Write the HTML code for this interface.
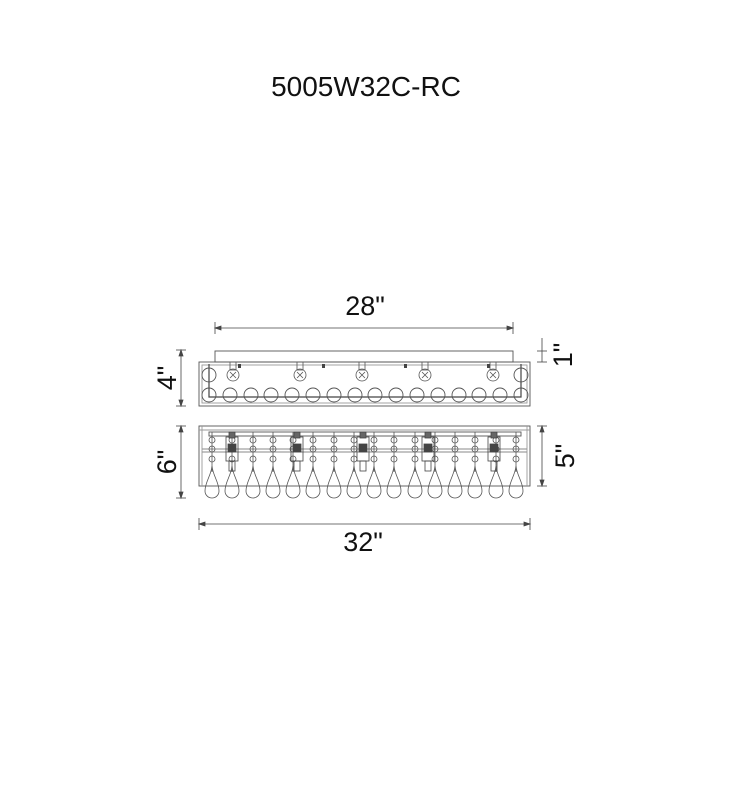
<!DOCTYPE html>
<html><head><meta charset="utf-8"><style>
html,body{margin:0;padding:0;background:#fff;width:730px;height:800px;overflow:hidden}
</style></head><body>
<svg width="730" height="800" viewBox="0 0 730 800" xmlns="http://www.w3.org/2000/svg" font-family="Liberation Sans, sans-serif">
<defs>
  <g id="drop" fill="none" stroke="#555" stroke-width="0.8">
    <line x1="0" y1="432" x2="0" y2="472"/>
    <circle cx="0" cy="440" r="3"/>
    <circle cx="0" cy="449" r="3"/>
    <circle cx="0" cy="459" r="3"/>
    <path d="M0,466 C-1,476 -7,482 -7,491 A7,7 0 0 0 7,491 C7,482 1,476 0,466 Z"/>
  </g>
  <g id="bulb" fill="none" stroke="#555" stroke-width="0.8">
    <rect x="-3" y="362" width="6" height="8"/>
    <circle cx="0" cy="375" r="6"/>
    <path d="M-3,372 L3,378 M3,372 L-3,378"/>
  </g>
  <g id="fix" fill="none" stroke="#444" stroke-width="0.8">
    <rect x="-6" y="437" width="12" height="24"/>
    <rect x="-3" y="432" width="6" height="6" fill="#666"/>
    <rect x="-4" y="444" width="8" height="8" fill="#444"/>
    <rect x="-3" y="461" width="6" height="10"/>
  </g>
</defs>

<text x="366" y="96" font-size="28" text-anchor="middle" fill="#111">5005W32C-RC</text>

<text x="365" y="315" font-size="27" text-anchor="middle" fill="#111">28"</text>
<g stroke="#444" stroke-width="0.8" fill="#444">
  <line x1="215" y1="328" x2="513" y2="328"/>
  <line x1="215" y1="322" x2="215" y2="334"/>
  <line x1="513" y1="322" x2="513" y2="334"/>
  <path d="M215,328 l6,-2 v4z M513,328 l-6,-2 v4z"/>
</g>

<g fill="none" stroke="#555" stroke-width="0.9">
  <rect x="215" y="351" width="298" height="11"/>
  <rect x="199" y="362" width="331" height="44"/>
  <rect x="202" y="365" width="325" height="38" stroke="#999"/>
  <path d="M209,364 V397 H521 V364" stroke="#444" stroke-width="1.2"/>
  <circle cx="209" cy="375" r="7"/><circle cx="521" cy="375" r="7"/>
  <circle cx="209" cy="395" r="7"/><circle cx="230" cy="395" r="7"/><circle cx="251" cy="395" r="7"/><circle cx="271" cy="395" r="7"/><circle cx="292" cy="395" r="7"/><circle cx="313" cy="395" r="7"/><circle cx="334" cy="395" r="7"/><circle cx="355" cy="395" r="7"/><circle cx="375" cy="395" r="7"/><circle cx="396" cy="395" r="7"/><circle cx="417" cy="395" r="7"/><circle cx="438" cy="395" r="7"/><circle cx="459" cy="395" r="7"/><circle cx="479" cy="395" r="7"/><circle cx="500" cy="395" r="7"/><circle cx="521" cy="395" r="7"/>
</g>
<use href="#bulb" x="233"/><use href="#bulb" x="300"/><use href="#bulb" x="362"/><use href="#bulb" x="425"/><use href="#bulb" x="493"/>
<g fill="#444"><rect x="238" y="364" width="3" height="4"/><rect x="322" y="364" width="3" height="4"/><rect x="404" y="364" width="3" height="4"/><rect x="487" y="364" width="3" height="4"/></g>

<g fill="none" stroke="#555" stroke-width="0.9">
  <rect x="199" y="426" width="331" height="60"/>
  <line x1="199" y1="430" x2="530" y2="430" stroke="#999"/>
  <rect x="209" y="432" width="312" height="4"/>
  <line x1="202" y1="449" x2="527" y2="449" stroke="#888"/>
  <line x1="202" y1="452" x2="527" y2="452" stroke="#888"/>
  <line x1="202" y1="426" x2="202" y2="486" stroke="#999"/>
  <line x1="527" y1="426" x2="527" y2="486" stroke="#999"/>
</g>
<use href="#drop" x="212"/><use href="#drop" x="232"/><use href="#drop" x="253"/><use href="#drop" x="273"/><use href="#drop" x="293"/><use href="#drop" x="313"/><use href="#drop" x="334"/><use href="#drop" x="354"/><use href="#drop" x="374"/><use href="#drop" x="394"/><use href="#drop" x="415"/><use href="#drop" x="435"/><use href="#drop" x="455"/><use href="#drop" x="475"/><use href="#drop" x="496"/><use href="#drop" x="516"/>
<use href="#fix" x="232"/><use href="#fix" x="297"/><use href="#fix" x="363"/><use href="#fix" x="428"/><use href="#fix" x="494"/>

<g stroke="#444" stroke-width="0.8" fill="#444">
  <line x1="181" y1="350" x2="181" y2="406"/>
  <line x1="176" y1="350" x2="186" y2="350"/><line x1="176" y1="406" x2="186" y2="406"/>
  <path d="M181,350 l-2,6 h4z M181,406 l-2,-6 h4z"/>
  <line x1="181" y1="426" x2="181" y2="498"/>
  <line x1="176" y1="426" x2="186" y2="426"/><line x1="176" y1="498" x2="186" y2="498"/>
  <path d="M181,426 l-2,6 h4z M181,498 l-2,-6 h4z"/>
  <line x1="542" y1="338" x2="542" y2="362"/>
  <line x1="537" y1="351" x2="547" y2="351"/><line x1="537" y1="362" x2="547" y2="362"/>
  <line x1="542" y1="426" x2="542" y2="486"/>
  <line x1="537" y1="426" x2="547" y2="426"/><line x1="537" y1="486" x2="547" y2="486"/>
  <path d="M542,426 l-2,6 h4z M542,486 l-2,-6 h4z"/>
  <line x1="199" y1="524" x2="530" y2="524"/>
  <line x1="199" y1="518" x2="199" y2="530"/><line x1="530" y1="518" x2="530" y2="530"/>
  <path d="M199,524 l6,-2 v4z M530,524 l-6,-2 v4z"/>
</g>
<text transform="translate(176,378) rotate(-90)" font-size="27" text-anchor="middle" fill="#111">4"</text>
<text transform="translate(176,462) rotate(-90)" font-size="27" text-anchor="middle" fill="#111">6"</text>
<text transform="translate(572,355) rotate(-90)" font-size="27" text-anchor="middle" fill="#111">1"</text>
<text transform="translate(574,456) rotate(-90)" font-size="27" text-anchor="middle" fill="#111">5"</text>
<text x="363" y="551" font-size="27" text-anchor="middle" fill="#111">32"</text>
</svg>
</body></html>
